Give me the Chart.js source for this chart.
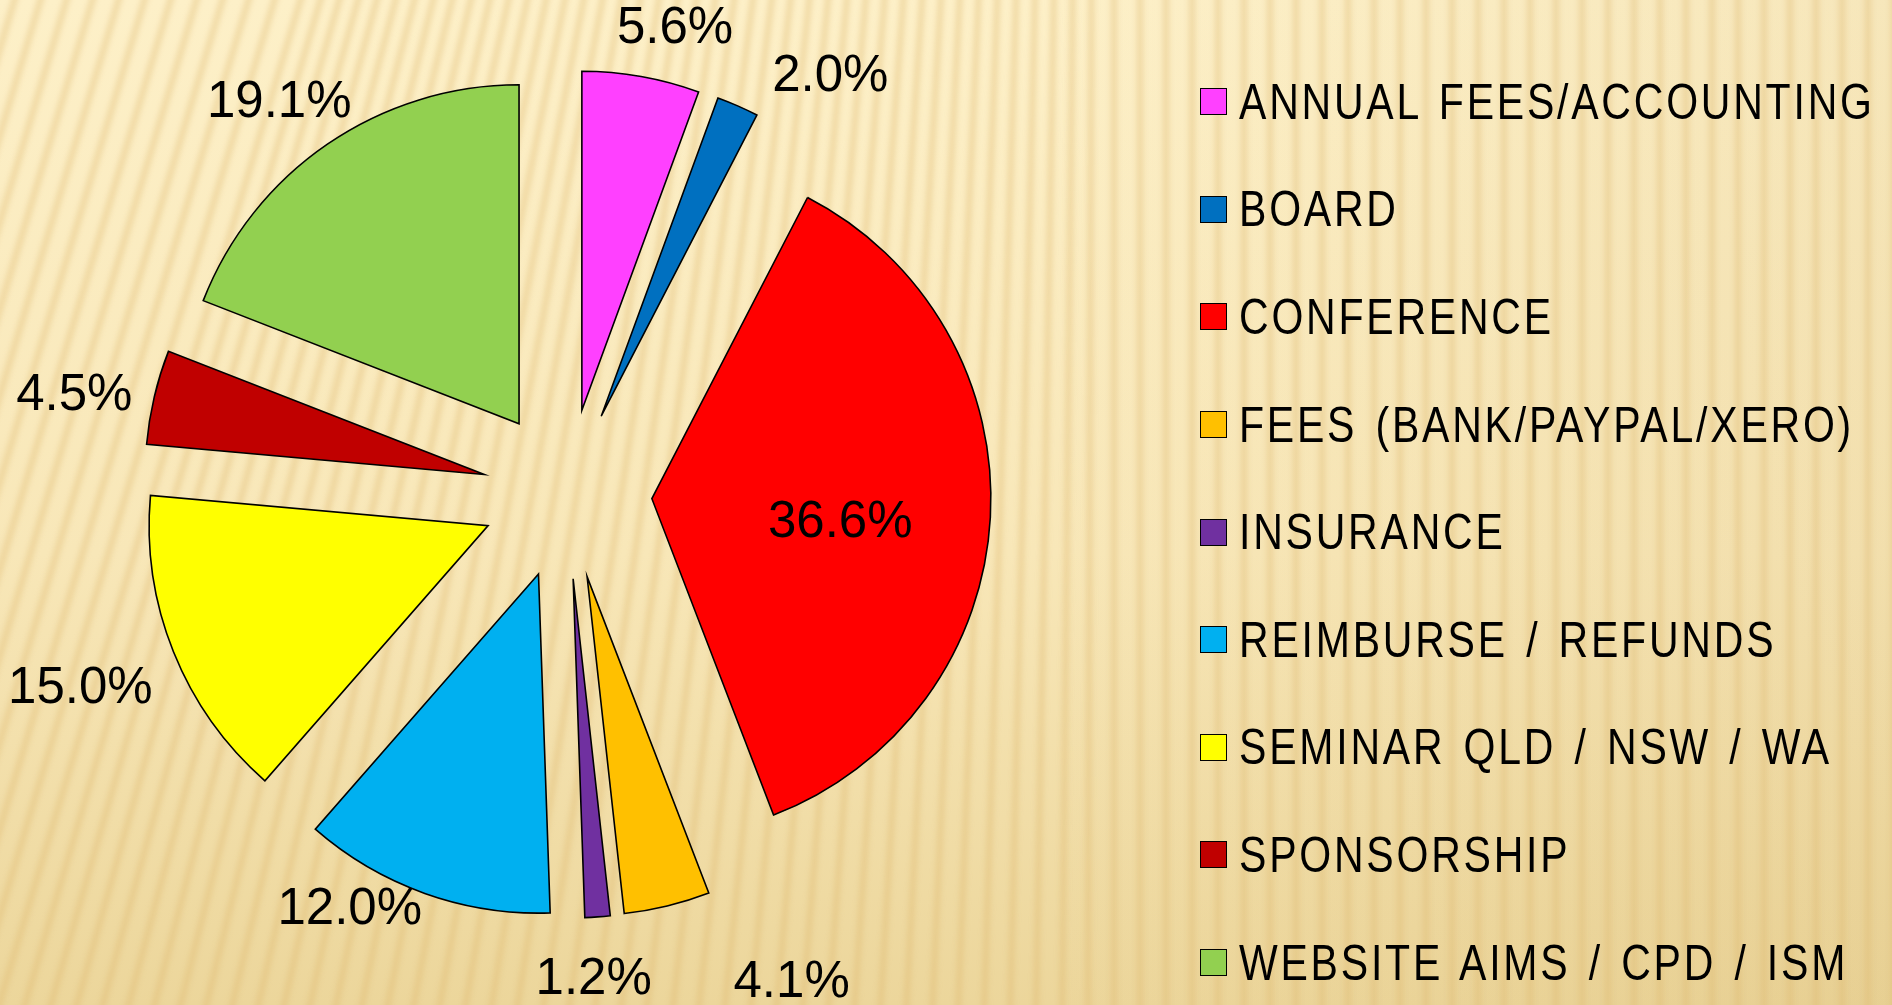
<!DOCTYPE html>
<html>
<head>
<meta charset="utf-8">
<script src="https://cdn.jsdelivr.net/npm/chart.js@4.4.1/dist/chart.umd.min.js"></script>
<style>
    html, body { margin: 0; padding: 0; }
    body { width: 1892px; height: 1005px; overflow: hidden; position: relative; background: #f8e8bb; }
    #bg, #costChart { position: absolute; left: 0; top: 0; }
    #custom-legend { position: absolute; left: 1200px; top: 48px; }
    .legend-item { display: flex; align-items: center; height: 107.6px; }
    .legend-box { width: 25px; height: 25px; border: 1.5px solid #000; margin-right: 12px; flex: none; }
    .legend-label {
        display: inline-block;
        font-family: 'Liberation Sans', Arial, sans-serif;
        font-size: 50px; line-height: 1; letter-spacing: 3.4px; word-spacing: 5px; color: #000; white-space: nowrap;
        transform: scaleX(0.82); transform-origin: left center;
    }
</style>
</head>
<body>
<canvas id="bg" width="1892" height="1005"></canvas>
<canvas id="costChart" width="1892" height="1005"></canvas>
<div id="custom-legend"></div>

<script>
const categories = [
    'ANNUAL FEES/ACCOUNTING',
    'BOARD',
    'CONFERENCE',
    'FEES (BANK/PAYPAL/XERO)',
    'INSURANCE',
    'REIMBURSE / REFUNDS',
    'SEMINAR QLD / NSW / WA',
    'SPONSORSHIP',
    'WEBSITE AIMS / CPD / ISM'
];
const shares = [5.6, 2.0, 36.6, 4.1, 1.2, 12.0, 15.0, 4.5, 19.1];
const sliceColors = ['#FF40FF', '#0070C0', '#FF0000', '#FFC000', '#7030A0', '#00B0F0', '#FFFF00', '#C00000', '#92D050'];

// label placement tweaks (degrees turned / pixels pushed beyond the default spot)
const labelTurn = [3, 8.5, 3, -11, 1, 8, 0, -2, -2];
const labelPush = [1, 2, 0, 52, 20, -26, 7, -1, -17];

document.addEventListener('DOMContentLoaded', (event) => {
    // striped golden background
    const bg = document.getElementById('bg').getContext('2d');
    const W = 1892, H = 1005;
    let g = bg.createLinearGradient(0, 0, 0, H);
    g.addColorStop(0, '#fdf0c8');
    g.addColorStop(0.55, '#f8e7b8');
    g.addColorStop(1, '#ecd69b');
    bg.fillStyle = g;
    bg.fillRect(0, 0, W, H);
    g = bg.createLinearGradient(0, 0, W, 0);
    g.addColorStop(0, 'rgba(190,150,70,0)');
    g.addColorStop(0.55, 'rgba(190,150,70,0)');
    g.addColorStop(1, 'rgba(190,150,70,0.10)');
    bg.fillStyle = g;
    bg.fillRect(0, 0, W, H);
    bg.filter = 'blur(2.5px)';
    bg.lineWidth = 7;
    bg.strokeStyle = 'rgba(222,180,105,0.32)';
    for (let x = -420; x < W + 40; x += 26) {
        const slope = 0.3 * Math.max(0, 1 - Math.max(x, 0) / 1100);
        bg.beginPath();
        bg.moveTo(x, H + 10);
        bg.lineTo(x + slope * (H + 20), -10);
        bg.stroke();
    }
    bg.filter = 'none';

    const explodeGap = 85;
    const pieRadius = 339;

    const explode = {
        id: 'explode',
        afterDatasetsUpdate(chart) {
            const area = chart.chartArea;
            const cx = (area.left + area.right) / 2;
            const cy = (area.top + area.bottom) / 2;
            chart.getDatasetMeta(0).data.forEach((arc) => {
                const mid = (arc.startAngle + arc.endAngle) / 2;
                arc.x = cx + explodeGap * Math.cos(mid);
                arc.y = cy + explodeGap * Math.sin(mid);
            });
        }
    };

    const percentLabels = {
        id: 'percentLabels',
        afterDatasetsDraw(chart) {
            const ctx = chart.ctx;
            const area = chart.chartArea;
            const cx = (area.left + area.right) / 2;
            const cy = (area.top + area.bottom) / 2;
            ctx.save();
            ctx.font = '51px "Liberation Sans", Arial, sans-serif';
            ctx.fillStyle = '#000';
            ctx.textAlign = 'center';
            ctx.textBaseline = 'middle';
            chart.getDatasetMeta(0).data.forEach((arc, i) => {
                const text = shares[i].toFixed(1) + '%';
                const mid = (arc.startAngle + arc.endAngle) / 2 + labelTurn[i] * Math.PI / 180;
                const ux = Math.cos(mid), uy = Math.sin(mid);
                let r;
                if (i === 2) {
                    r = explodeGap + arc.outerRadius * 0.56;
                } else {
                    const w = ctx.measureText(text).width;
                    const ext = w / 2 * Math.abs(ux) + 22 * Math.abs(uy);
                    r = arc.outerRadius + explodeGap + 18 + ext + labelPush[i];
                }
                ctx.fillText(text, cx + r * ux, cy + r * uy);
            });
            ctx.restore();
        }
    };

    const ctx = document.getElementById('costChart').getContext('2d');
    const costChart = new Chart(ctx, {
        type: 'pie',
        data: {
            labels: categories,
            datasets: [{
                data: shares,
                backgroundColor: sliceColors,
                borderColor: '#000',
                borderWidth: 1.6,
                borderJoinStyle: 'miter',
                radius: pieRadius
            }]
        },
        options: {
            responsive: false,
            animation: false,
            events: [],
            layout: { padding: { left: 0, top: 0, right: 758, bottom: 17 } },
            plugins: {
                legend: { display: false },
                tooltip: { enabled: false }
            }
        },
        plugins: [explode, percentLabels]
    });

    // custom legend
    const customLegend = document.getElementById('custom-legend');
    costChart.data.labels.forEach((name, index) => {
        const legendItem = document.createElement('div');
        legendItem.classList.add('legend-item');

        const box = document.createElement('div');
        box.classList.add('legend-box');
        box.style.background = sliceColors[index];
        legendItem.appendChild(box);

        const label = document.createElement('div');
        label.classList.add('legend-label');
        label.textContent = name;
        legendItem.appendChild(label);

        customLegend.appendChild(legendItem);
    });
});
</script>
</body>
</html>
